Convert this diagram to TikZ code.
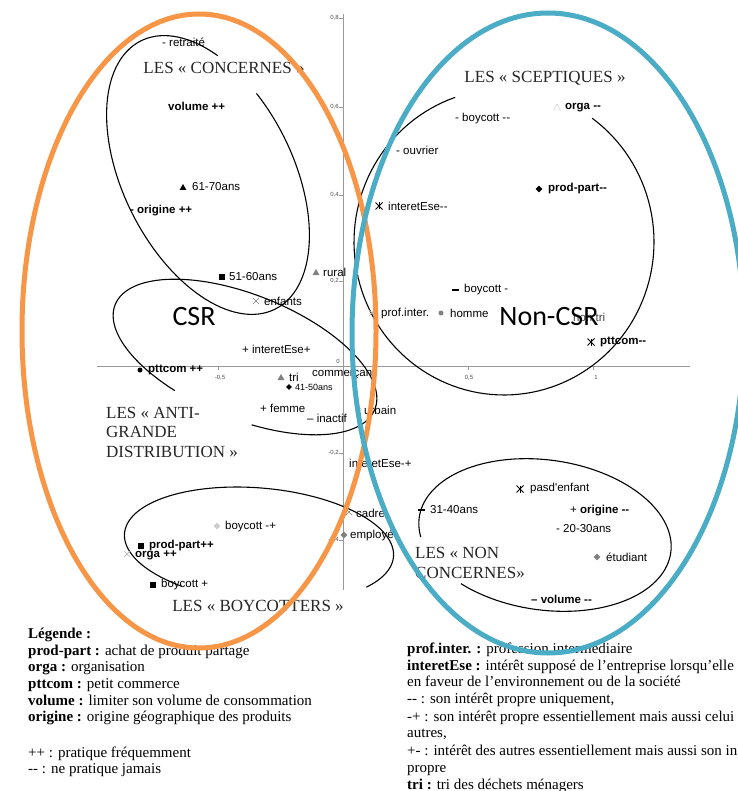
\documentclass[tikz,border=0pt]{standalone}
\usepackage{fontspec}
\newfontfamily\serfont{Liberation Serif}
\newfontfamily\labfont{Liberation Sans}
\newfontfamily\csrfont{Carlito}
\usetikzlibrary{shapes.geometric,shapes.misc}
\definecolor{csrorange}{HTML}{F79646}
\definecolor{csrblue}{HTML}{4BACC6}
\definecolor{axisgray}{gray}{0.6}

\begin{document}
\begin{tikzpicture}[x=1pt,y=-1pt,
  lab/.style={anchor=west, inner sep=0pt, font=\labfont\fontsize{11.5}{13}\selectfont},
  blab/.style={lab, font=\labfont\bfseries\fontsize{11.5}{13}\selectfont},
  ttl/.style={inner sep=0pt, text=black!85, font=\serfont\fontsize{17}{19.5}\selectfont},
  leg/.style={anchor=base west, inner sep=0pt, font=\serfont\fontsize{15}{16}\selectfont},
  ticklab/.style={inner sep=0pt, text=black!70, font=\labfont\fontsize{6}{7}\selectfont},
  mtri/.style={regular polygon, regular polygon sides=3, fill, inner sep=0pt, minimum size=8pt},
  msq/.style={rectangle, fill, inner sep=0pt, minimum size=6pt},
  mdia/.style={diamond, fill, inner sep=0pt, minimum size=7pt},
  mdot/.style={circle, fill, inner sep=0pt, minimum size=5pt},
  mbar/.style={rectangle, fill, inner sep=0pt, minimum width=7pt, minimum height=2.5pt},
  mx/.style={cross out, draw, inner sep=0pt, minimum size=6pt},
  mzhe/.style={mx, line width=1pt, append after command={(\tikzlastnode.north) edge[line width=1pt] (\tikzlastnode.south)}},
  grp/.style={line width=1.1pt},
  csrline/.style={line width=5pt}
]
\useasboundingbox (0,0) rectangle (737,791);
\fill[white] (0,0) rectangle (737,791);

% axes
\coordinate (xl) at (97,366);
\coordinate (xr) at (690,366);
\coordinate (yt) at (343,14);
\coordinate (yb) at (343,590);
\draw[axisgray, line width=1pt] (xl) -- (xr);
\draw[axisgray, line width=1pt] (yt) -- (yb);
\draw[axisgray] (339,18) -- (343,18) (339,107) -- (343,107) (339,195) -- (343,195)
  (339,281) -- (343,281) (339,453) -- (343,453) (339,540) -- (343,540)
  (218,366) -- (218,370) (468,366) -- (468,370) (593,366) -- (593,370);
\node[ticklab, anchor=east] at (339,18) (t08) {0,8};
\node[ticklab, anchor=east] at (339,107) (t06) {0,6};
\node[ticklab, anchor=east] at (339,195) (t04) {0,4};
\node[ticklab, anchor=east] at (339,281) (t02) {0,2};
\node[ticklab, anchor=east] at (340,361) (t00) {0};
\node[ticklab, anchor=east] at (339,453) (tm02) {-0,2};
\node[ticklab, anchor=east] at (339,540) (tm04) {-0,4};
\node[ticklab] at (220,378) (tm05) {-0,5};
\node[ticklab] at (469,378) (t05) {0,5};
\node[ticklab] at (596,377) (t10) {1};

% group outlines
\draw[grp] plot[domain=250:587, samples=120, variable=\t]
  ({208+150*cos(\t)*cos(63.4)-85*sin(\t)*sin(63.4)}, {175+150*cos(\t)*sin(63.4)+85*sin(\t)*cos(63.4)});
\draw[grp] plot[domain=112:437, samples=120, variable=\t]
  ({245+140*cos(\t)*cos(22)-62*sin(\t)*sin(22)}, {357+140*cos(\t)*sin(22)+62*sin(\t)*cos(22)});
\draw[grp] plot[domain=123:395, samples=120, variable=\t]
  ({259+135*cos(\t)*cos(5)-57*sin(\t)*sin(5)}, {545+135*cos(\t)*sin(5)+57*sin(\t)*cos(5)});
\draw[grp] plot[domain=306:611, samples=120, variable=\t]
  ({504+150*cos(\t)}, {242+153*sin(\t)});
\draw[grp] plot[domain=165:487, samples=120, variable=\t]
  ({545+127*cos(\t)*cos(8)-75*sin(\t)*sin(8)}, {535+127*cos(\t)*sin(8)+75*sin(\t)*cos(8)});

% points, left
\node[lab] at (162,42) (retr) {- retraité};
\node[blab] at (168,106) (volpp) {volume ++};
\node[mtri] at (183,188) (m6170) {};
\node[lab] at (192,187) (a6170) {61-70ans};
\node[blab] at (130,211) (origpp) {- origine ++};
\node[msq] at (222,277) (m5160) {};
\node[lab] at (229,277) (a5160) {51-60ans};
\node[mx, draw=gray] at (256,301) (menf) {};
\node[lab] at (264,301) (enf) {enfants};
\node[mtri, fill=gray] at (316,273) (mrur) {};
\node[lab] at (323,272) (rur) {rural};
\node[lab] at (242,349) (iepl) {+ interetEse+};
\node[mdot] at (140,370) (mptt) {};
\node[blab] at (148,370) (pttpp) {pttcom ++};
\node[mtri, fill=gray] at (281,378) (mtrio) {};
\node[lab] at (289,377) (tri) {tri};
\node[mdia, minimum size=6pt] at (289,387) (m4150) {};
\node[lab, font=\labfont\fontsize{9}{11}\selectfont] at (295,387) (a4150) {41-50ans};
\node[lab] at (312,374) (comm) {commerçant};
\node[lab] at (260,408) (fem) {+ femme};
\node[lab] at (307,418) (inac) {– inactif};
\node[mdot, fill=gray] at (358,409) (murb) {};
\node[lab] at (364,410) (urb) {urbain};
\node[lab] at (349,463) (iemp) {interetEse-+};
\node[mx, draw=gray] at (349,512) (mcad) {};
\node[lab] at (356,513) (cad) {cadre};
\node[mdia, fill=gray] at (344,535) (memp) {};
\node[lab] at (350,535) (emp) {employé};

% points, boycotters
\node[mdia, fill=gray!40] at (217,526) (mbmp) {};
\node[lab] at (225,527) (bmp) {boycott -+};
\node[msq] at (141,546) (mppp) {};
\node[blab] at (149,546) (pppp) {prod-part++};
\node[mx, draw=gray!60] at (127,554) (morg) {};
\node[blab] at (135,555) (orgpp) {orga ++};
\node[msq] at (153,585) (mbp) {};
\node[lab] at (161,585) (bp) {boycott +};

% points, right
\node[lab] at (455,119) (bmm) {- boycott --};
\node[mtri, fill=none, draw=gray!40] at (557,108) (morgm) {};
\node[blab] at (565,108) (orgmm) {orga --};
\node[lab] at (396,150) (ouv) {- ouvrier};
\node[mdia] at (539,189) (mppm) {};
\node[blab] at (548,189) (ppmm) {prod-part--};
\node[mzhe] at (379,206) (miem) {};
\node[lab] at (388,206) (iemm) {interetEse--};
\node[mbar] at (455,290) (mbm) {};
\node[lab] at (464,290) (bm) {boycott -};
\node[mx, draw=gray!60] at (372,313) (mprof) {};
\node[lab] at (381,314) (prof) {prof.inter.};
\node[mdot, fill=gray] at (441,313) (mhom) {};
\node[lab] at (450,313) (hom) {homme};
\node[lab, text=black!75] at (573,317) (ntri) {non tri};
\node[mzhe] at (591,342) (mptm) {};
\node[blab] at (600,342) (pttmm) {pttcom--};

% points, non concernes
\node[mzhe] at (520,489) (mpas) {};
\node[lab] at (530,489) (pas) {pasd'enfant};
\node[mbar] at (421,510) (m3140) {};
\node[lab] at (430,510) (a3140) {31-40ans};
\node[lab] at (570,511) (origmm) {+ \textbf{origine --}};
\node[lab] at (556,529) (a2030) {- 20-30ans};
\node[mdia, fill=gray] at (597,557) (metu) {};
\node[lab] at (606,557) (etu) {étudiant};
\node[blab] at (531,599) (volmm) {– volume --};

% group titles
\node[ttl] at (224,68) (tcon) {LES « CONCERNES »};
\node[ttl] at (545,78) (tsce) {LES « SCEPTIQUES »};
\node[ttl, anchor=west, align=left] at (106,432) (tanti) {LES « ANTI-\\GRANDE\\DISTRIBUTION »};
\node[ttl] at (258,606) (tboy) {LES « BOYCOTTERS »};
\node[ttl, anchor=west, align=left] at (415,563) (tnon) {LES « NON\\CONCERNES»};

% legend
\node[leg] at (28,638) (lg0) {\bfseries Légende :};
\node[leg] at (28,655) (lg1) {\textbf{prod-part :} achat de produit partage};
\node[leg] at (28,671.5) (lg2) {\textbf{orga :} organisation};
\node[leg] at (28,688) (lg3) {\textbf{pttcom :} petit commerce};
\node[leg] at (28,705) (lg4) {\textbf{volume :} limiter son volume de consommation};
\node[leg] at (28,721.5) (lg5) {\textbf{origine :} origine géographique des produits};
\node[leg] at (28,757) (lg6) {++ : pratique fréquemment};
\node[leg] at (28,773) (lg7) {-- : ne pratique jamais};
\node[leg] at (407,653) (lr1) {\textbf{prof.inter. :} profession intermédiaire};
\node[leg] at (407,670) (lr2) {\textbf{interetEse :} intérêt supposé de l’entreprise lorsqu’elle};
\node[leg] at (407,686.5) (lr3) {en faveur de l’environnement ou de la société};
\node[leg] at (407,703.5) (lr4) {-- : son intérêt propre uniquement,};
\node[leg] at (407,721) (lr5) {-+ : son intérêt propre essentiellement mais aussi celui};
\node[leg] at (407,737.5) (lr6) {autres,};
\node[leg] at (407,755) (lr7) {+- : intérêt des autres essentiellement mais aussi son in};
\node[leg] at (407,772) (lr8) {propre};
\node[leg] at (407,789) (lr9) {\textbf{tri :} tri des déchets ménagers};

% CSR / Non-CSR
\draw[csrorange, csrline] (199,331) ellipse [x radius=177, y radius=317];
\draw[csrblue, csrline] (548,333) ellipse [x radius=196, y radius=320];
\node[font=\csrfont\fontsize{28}{32}\selectfont] at (194,317) (csr) {CSR};
\node[font=\csrfont\fontsize{28}{32}\selectfont] at (549,317) (ncsr) {Non-CSR};
\end{tikzpicture}
\end{document}
